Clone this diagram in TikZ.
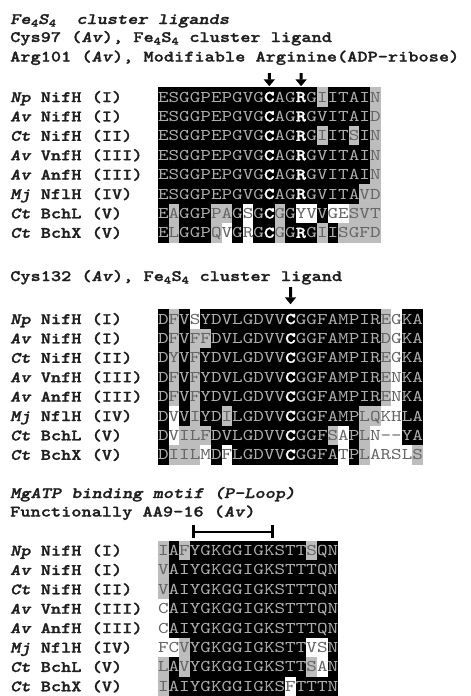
\documentclass[tikz,border=0pt]{standalone}
\usepackage{fontspec}
\usetikzlibrary{arrows.meta}
\newfontfamily\seqfam{lmmono10-regular.otf}[FakeStretch=1.23]
\newfontfamily\seqboldfam{lmmonolt10-bold.otf}[FakeStretch=1.23, FakeBold=1.5]
\newfontfamily\labfam{lmmonolt10-bold.otf}[ItalicFont=lmmonolt10-boldoblique.otf, FakeStretch=1.22, FakeBold=1.4]
\newcommand\seqfont{\seqfam\fontsize{16.4pt}{20pt}\selectfont}
\newcommand\seqboldfont{\seqboldfam\fontsize{16.4pt}{20pt}\selectfont}
\newcommand\labfont{\labfam\fontsize{15.9pt}{20pt}\selectfont}
\definecolor{ontext}{gray}{0.68}
\definecolor{offtext}{gray}{0.40}
\definecolor{greycell}{gray}{0.74}
\definecolor{labtext}{gray}{0.12}
\newcount\alncount
\def\alnrow#1#2#3{\def\alnname{#1}\def\alny{#2}\global\alncount=0 \alnparse#3\relax\relax}
\def\alnparse#1#2{\ifx\relax#1\else\global\advance\alncount by 1 \alncell{#1}{#2}\expandafter\alnparse\fi}
\def\alncell#1#2{%
  \pgfmathsetmacro\alnx{158+10.6*(\the\alncount-0.5)}%
  \edef\alnnm{\alnname c\the\alncount}%
  \if#2K\node[cellK] (\alnnm) at (\alnx pt,-\alny pt) {#1};\fi
  \if#2B\node[cellB] (\alnnm) at (\alnx pt,-\alny pt) {#1};\fi
  \if#2G\node[cellG] (\alnnm) at (\alnx pt,-\alny pt) {#1};\fi
  \if#2W\node[cellW] (\alnnm) at (\alnx pt,-\alny pt) {#1};\fi
}
\tikzset{
  cell/.style={minimum width=10.7pt, minimum height=19.5pt, inner sep=0pt, outer sep=0pt,
    text height=10pt, text depth=0pt, font=\seqfont},
  cellK/.style={cell, fill=black, text=ontext},
  cellB/.style={cell, fill=black, text=white, font=\seqboldfont},
  cellG/.style={cell, fill=greycell, text=offtext},
  cellW/.style={cell, fill=white, text=offtext},
  lab/.style={anchor=base west, inner sep=0pt, font=\labfont, text=labtext},
  downarr/.style={-{Triangle[width=11pt,length=7pt]}, line width=3pt, black},
  pbar/.style={line width=2.6pt, black}
}
\begin{document}
\begin{tikzpicture}
\fill[white] (0,0) rectangle (471pt,-696pt);
\useasboundingbox (0,0) rectangle (471pt,-696pt);

% titles
\node[lab] (t1) at (10pt,-24pt) {\itshape Fe\textsubscript{4}S\textsubscript{4}\ \ cluster ligands};
\node[lab] (t2) at (10pt,-42pt) {Cys97 (\textit{Av}), Fe\textsubscript{4}S\textsubscript{4} cluster ligand};
\node[lab] (t3) at (10pt,-61.5pt) {Arg101 (\textit{Av}), Modifiable Arginine(ADP-ribose)};
\node[lab] (t4) at (10pt,-281pt) {Cys132 (\textit{Av}), Fe\textsubscript{4}S\textsubscript{4} cluster ligand};
\node[lab] (t5) at (10pt,-498pt) {\itshape MgATP binding motif (P-Loop)};
\node[lab] (t6) at (10pt,-516.5pt) {Functionally AA9-16 (\textit{Av})};

% row labels
\foreach \bl/\by in {1/97, 2/319, 3/550.5}{
  \foreach \sp/\pr [count=\i] in {Np/NifH (I), Av/NifH (I), Ct/NifH (II), Av/VnfH (III), Av/AnfH (III), Mj/NflH (IV), Ct/BchL (V), Ct/BchX (V)}{
    \pgfmathsetmacro\ly{\by+19.4*(\i-1)+5}
    \node[lab] (lab\bl-\i) at (10pt,-\ly pt) {{\itshape\sp} \pr};
  }
}

% block 1
\alnrow{b1r1}{97.0}{EK SK GK GK PK EK PK GK VK GK CB AK GK RB GK IG IK TK AK IK NG}
\alnrow{b1r2}{116.4}{EK SK GK GK PK EK PK GK VK GK CB AK GK RB GK VK IK TK AK IK DG}
\alnrow{b1r3}{135.8}{EK SK GK GK PK EK PK GK VK GK CB AK GK RB GK IG IK TK SG IK NG}
\alnrow{b1r4}{155.2}{EK SK GK GK PK EK PK GK VK GK CB AK GK RB GK VK IK TK AK IK NG}
\alnrow{b1r5}{174.6}{EK SK GK GK PK EK PK GK VK GK CB AK GK RB GK VK IK TK AK IK NG}
\alnrow{b1r6}{194.0}{EK SK GK GK PK EK PK GK VK GK CB AK GK RB GK VK IK TK AK VG DG}
\alnrow{b1r7}{213.4}{EK AG GK GK PK PG AG GK SW GK CB GG GK YW VW VK GW EW SG VG TG}
\alnrow{b1r8}{232.8}{EK LG GK GK PK QG VW GK RW GK CB GG GK RB GK IG IK SG GG FG DG}

% block 2
\alnrow{b2r1}{319.0}{DK FG VK SW YK DK VK LK GK DK VK VK CB GK GK FK AK MK PK IK RK EG GW KK AK}
\alnrow{b2r2}{338.4}{DK FG VK FG FG DK VK LK GK DK VK VK CB GK GK FK AK MK PK IK RK DG GW KK AK}
\alnrow{b2r3}{357.8}{DK YG VK FG YK DK VK LK GK DK VK VK CB GK GK FK AK MK PK IK RK EG GW KK AK}
\alnrow{b2r4}{377.2}{DK FG VK FG YK DK VK LK GK DK VK VK CB GK GK FK AK MK PK IK RK EG NW KK AK}
\alnrow{b2r5}{396.6}{DK FG VK FG YK DK VK LK GK DK VK VK CB GK GK FK AK MK PK IK RK EG NW KK AK}
\alnrow{b2r6}{416.0}{DK VW VK IG YK DK IG LK GK DK VK VK CB GK GK FK AK MK PK LG QG KW HW LK AK}
\alnrow{b2r7}{435.4}{DK VW IG LG FG DK VK LK GK DK VK VK CB GK GK FK SG AW PK LG NW -W -W YK AK}
\alnrow{b2r8}{454.8}{DK IG IG LG MW DK FW LK GK DK VK VK CB GK GK FK AK TW PK LG AW RW SW LW SG}

% block 3
\alnrow{b3r1}{550.5}{IG AK FG YK GK KK GK GK IK GK KK SK TK TK SG QK NK}
\alnrow{b3r2}{569.9}{VG AK IK YK GK KK GK GK IK GK KK SK TK TK TK QK NK}
\alnrow{b3r3}{589.3}{VG AK IK YK GK KK GK GK IK GK KK SK TK TK TK QK NK}
\alnrow{b3r4}{608.7}{CW AK IK YK GK KK GK GK IK GK KK SK TK TK TK QK NK}
\alnrow{b3r5}{628.1}{CW AK IK YK GK KK GK GK IK GK KK SK TK TK TK QK NK}
\alnrow{b3r6}{647.5}{FW CW VG YK GK KK GK GK IK GK KK SK TK TK VW SW NK}
\alnrow{b3r7}{666.9}{LG AK VG YK GK KK GK GK IK GK KK SK TK TK SG AW NK}
\alnrow{b3r8}{686.3}{IG AK IK YK GK KK GK GK IK GK KK SK FW TK TK TK NK}

% arrows
\coordinate (arC97) at (269.3pt,-73pt);
\coordinate (arR101) at (301.1pt,-73pt);
\draw[downarr] (arC97) -- ([yshift=1pt]b1r1c11.north);
\draw[downarr] (arR101) -- ([yshift=1pt]b1r1c14.north);
\coordinate (arC132) at (290.5pt,-287pt);
\draw[downarr] (arC132) -- ([yshift=5pt]b2r1c13.north);

% P-loop bar
\coordinate (barL) at (193.5pt,-532pt);
\coordinate (barR) at (272.7pt,-532pt);
\draw[pbar] (barL) -- (barR);
\draw[pbar] ([yshift=7pt]barL) -- ([yshift=-6pt]barL);
\draw[pbar] ([yshift=7pt]barR) -- ([yshift=-6pt]barR);
\end{tikzpicture}
\end{document}
